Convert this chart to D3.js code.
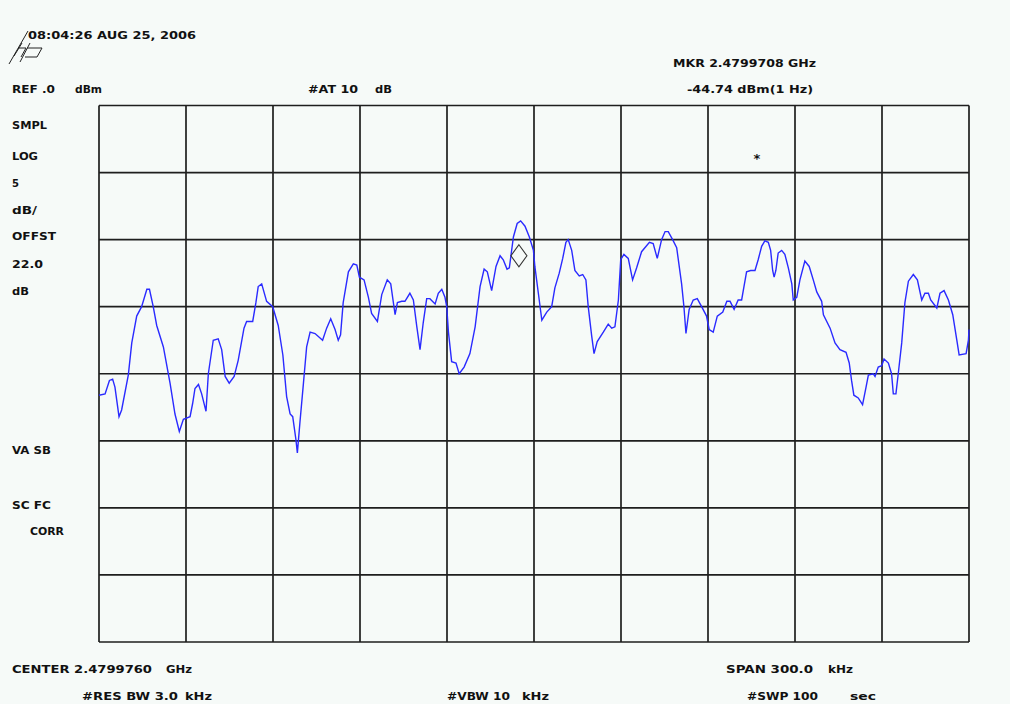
<!DOCTYPE html>
<html>
<head>
<meta charset="utf-8">
<script src="https://cdn.jsdelivr.net/npm/d3@7/dist/d3.min.js"></script>
<style>
  html, body { margin: 0; padding: 0; background: #f6faf8; }
  svg { display: block; }
  text { font-family: "DejaVu Sans", sans-serif; font-weight: bold; font-size: 11px; fill: #111; }
</style>
</head>
<body>
<svg id="chart" width="1010" height="704"></svg>
<script>
// Trace: frequency offset from center (kHz) and level (dBm)
const freqKHz = [
  -150.0,-147.9,-146.4,-145.3,-144.5,-143.1,-142.2,-139.9,-138.7,-137.0,
  -135.3,-133.5,-132.6,-131.3,-130.1,-127.8,-125.5,-123.8,-122.3,-120.9,
  -118.6,-117.7,-116.9,-115.7,-114.6,-113.1,-112.3,-110.6,-108.9,-107.7,
  -106.5,-105.1,-103.4,-102.0,-100.0,-99.1,-97.0,-95.9,-95.1,-93.9,
  -92.2,-90.1,-88.2,-86.6,-85.3,-84.1,-83.2,-82.1,-81.6,-80.7,
  -79.5,-78.4,-77.2,-75.5,-72.9,-71.5,-70.1,-68.6,-67.5,-66.7,
  -65.8,-64.0,-62.3,-61.1,-60.2,-58.6,-57.1,-56.0,-54.0,-52.5,
  -50.6,-49.4,-47.9,-47.1,-45.6,-44.5,-42.8,-41.6,-40.4,-39.3,
  -38.2,-37.0,-35.9,-34.1,-33.0,-31.8,-30.7,-30.1,-29.5,-28.4,
  -26.9,-25.8,-24.1,-22.1,-20.3,-18.6,-17.2,-16.1,-14.6,-13.1,
  -11.7,-10.6,-9.3,-8.5,-7.1,-5.8,-4.6,-3.1,-1.6,-0.2,
  0.3,1.5,2.7,4.4,6.1,7.2,8.7,9.9,11.0,11.8,
  13.0,14.1,15.6,16.8,17.9,18.7,19.9,20.7,21.8,23.9,
  25.6,26.8,27.9,29.1,29.9,31.0,32.5,34.0,35.4,37.1,
  39.8,41.1,42.5,44.0,45.2,46.3,47.8,49.2,50.9,51.7,
  52.4,53.5,54.9,56.3,57.8,59.5,60.4,61.8,63.2,65.1,
  66.5,67.6,69.0,70.4,71.6,72.4,73.3,74.7,76.2,77.3,
  78.5,79.6,80.8,81.6,82.3,82.8,83.4,84.2,85.4,86.5,
  87.7,88.9,89.4,90.6,91.7,93.4,94.9,96.3,97.5,99.2,
  99.8,102.1,103.8,105.5,107.6,108.7,109.5,110.3,111.8,113.3,
  114.5,115.3,117.0,117.6,118.7,119.9,120.7,122.2,123.3,123.9,
  124.8,125.6,126.8,127.9,129.1,130.8,132.2,133.7,134.8,136.0,
  136.8,138.9,140.0,141.4,142.9,144.4,145.8,146.6,149.0,149.8,
  150.0
];
const levelDBm = [
  -21.6,-21.5,-20.5,-20.4,-21.0,-23.2,-22.7,-20.1,-17.7,-15.7,
  -15.0,-13.7,-13.7,-15.0,-16.4,-18.0,-20.7,-23.0,-24.3,-23.4,
  -23.2,-22.2,-21.1,-20.8,-21.5,-22.8,-20.0,-17.5,-17.4,-18.2,
  -20.2,-20.7,-20.2,-19.0,-16.6,-16.1,-16.1,-14.7,-13.5,-13.3,
  -14.6,-15.0,-16.4,-18.6,-21.7,-23.0,-23.2,-24.9,-25.9,-23.6,
  -20.7,-18.0,-16.9,-17.0,-17.5,-16.6,-15.9,-16.7,-17.5,-17.1,
  -14.7,-12.4,-11.8,-11.9,-12.8,-13.0,-14.3,-15.5,-16.1,-14.1,
  -13.0,-13.3,-15.6,-14.7,-14.6,-14.6,-14.0,-14.5,-16.5,-18.2,
  -16.2,-14.4,-14.4,-14.8,-14.0,-13.7,-14.3,-15.0,-16.9,-19.1,
  -19.2,-20.0,-19.5,-18.5,-16.5,-13.5,-12.2,-12.4,-13.8,-12.0,
  -11.2,-11.5,-12.2,-12.1,-9.8,-8.8,-8.6,-9.0,-9.8,-10.8,
  -12.0,-14.0,-16.0,-15.4,-15.0,-13.6,-12.5,-11.4,-10.2,-10.0,
  -10.8,-12.3,-12.7,-12.6,-13.0,-15.0,-17.2,-18.5,-17.6,-16.9,
  -16.3,-16.6,-16.5,-14.5,-11.5,-11.1,-11.4,-13.0,-12.1,-10.9,
  -10.2,-10.3,-11.4,-10.0,-9.4,-9.4,-10.0,-10.6,-13.3,-15.0,
  -17.0,-15.2,-14.5,-14.4,-15.0,-15.7,-16.7,-16.9,-15.7,-15.4,
  -14.6,-14.6,-15.2,-14.5,-14.5,-13.5,-12.4,-12.3,-12.3,-11.5,
  -10.5,-10.1,-10.2,-10.8,-12.3,-12.8,-12.3,-11.0,-10.8,-11.1,
  -12.1,-13.3,-14.5,-14.3,-13.0,-11.6,-12.0,-13.0,-13.9,-14.6,
  -15.6,-16.6,-17.7,-18.2,-18.4,-19.2,-20.5,-21.6,-21.8,-22.3,
  -21.0,-20.1,-20.0,-20.2,-19.5,-19.4,-18.9,-19.2,-20.0,-21.5,
  -21.5,-20.0,-17.7,-14.7,-13.1,-12.6,-13.0,-14.5,-14.0,-14.0,
  -14.5,-15.1,-14.0,-13.8,-14.5,-15.6,-17.5,-18.6,-18.5,-17.5,
  -16.7
];
// Graticule: 10 horizontal divisions (30 kHz), 8 vertical divisions (5 dB)
const xTickValues = [-150,-120,-90,-60,-30,0,30,60,90,120,150];
const yTickValues = [-40,-35,-30,-25,-20,-15,-10,-5,0];
// Marker
const markerFreqKHz = -5.2;
const markerLevelDBm = -11.2;
const starFreqKHz = 76.9;
const starLevelDBm = -3.9;
// Annotation texts
const annotations = [
  {t: "08:04:26 AUG 25, 2006", x: 28, y: 39, w: 168},
  {t: "MKR 2.4799708 GHz", x: 673, y: 67, w: 143},
  {t: "REF .0", x: 12, y: 93, w: 43},
  {t: "dBm", x: 75, y: 93, w: 27},
  {t: "#AT 10", x: 308, y: 93, w: 50},
  {t: "dB", x: 375, y: 93, w: 17},
  {t: "-44.74 dBm(1 Hz)", x: 687, y: 93, w: 126},
  {t: "SMPL", x: 12, y: 129, w: 35},
  {t: "LOG", x: 12, y: 160, w: 26},
  {t: "5", x: 12, y: 187, w: 7},
  {t: "dB/", x: 12, y: 214, w: 25},
  {t: "OFFST", x: 12, y: 240, w: 44},
  {t: "22.0", x: 12, y: 268, w: 31},
  {t: "dB", x: 12, y: 295, w: 17},
  {t: "VA SB", x: 12, y: 454, w: 39},
  {t: "SC FC", x: 12, y: 509, w: 39},
  {t: "CORR", x: 30, y: 535, w: 34},
  {t: "CENTER 2.4799760", x: 12, y: 673, w: 140},
  {t: "GHz", x: 166, y: 673, w: 26},
  {t: "#RES BW 3.0", x: 82, y: 700, w: 96},
  {t: "kHz", x: 185, y: 700, w: 27},
  {t: "#VBW 10", x: 447, y: 700, w: 63},
  {t: "kHz", x: 522, y: 700, w: 27},
  {t: "SPAN 300.0", x: 726, y: 673, w: 87},
  {t: "kHz", x: 828, y: 673, w: 25},
  {t: "#SWP 100", x: 747, y: 700, w: 71},
  {t: "sec", x: 850, y: 700, w: 26}
];

const svg = d3.select("#chart");
svg.append("rect").attr("width", 1010).attr("height", 704).attr("fill", "#f6faf8");

const x = d3.scaleLinear().domain([-150, 150]).range([99, 969]);
const y = d3.scaleLinear().domain([-40, 0]).range([642, 105.5]);

// graticule
const grid = svg.append("g").attr("stroke", "#1e1e1e").attr("stroke-width", 1.7);
grid.selectAll("line.v").data(xTickValues).join("line").attr("class", "v")
  .attr("x1", d => x(d)).attr("x2", d => x(d)).attr("y1", y(0)).attr("y2", y(-40));
grid.selectAll("line.h").data(yTickValues).join("line").attr("class", "h")
  .attr("y1", d => y(d)).attr("y2", d => y(d)).attr("x1", x(-150)).attr("x2", x(150));

// trace
const pts = freqKHz.map((f, i) => [f, levelDBm[i]]);
svg.append("path").datum(pts)
  .attr("fill", "none").attr("stroke", "#2a2aff").attr("stroke-width", 1.4)
  .attr("d", d3.line().x(d => x(d[0])).y(d => y(d[1])));

// marker diamond
const mx = x(markerFreqKHz), my = y(markerLevelDBm);
svg.append("path")
  .attr("d", `M${mx},${my - 11}L${mx + 8},${my}L${mx},${my + 11}L${mx - 8},${my}Z`)
  .attr("fill", "none").attr("stroke", "#333").attr("stroke-width", 1.1);

// asterisk
svg.append("text").attr("x", x(starFreqKHz)).attr("y", y(starLevelDBm) + 5)
  .attr("text-anchor", "middle").style("font-size", "13px").text("*");

// annotations
svg.selectAll("text.ann").data(annotations).join("text").attr("class", "ann")
  .attr("x", d => d.x).attr("y", d => d.y)
  .attr("textLength", d => d.w).attr("lengthAdjust", "spacingAndGlyphs")
  .text(d => d.t);

// hp logo
svg.append("path")
  .attr("d", "M9,64 L28,31 M14,56 L22,43 M18,48 L26,48 L21,57 M27,48 L42,48 L37,57 L25,57 M30,43 L20,62")
  .attr("fill", "none").attr("stroke", "#222").attr("stroke-width", 1);
</script>
</body>
</html>
